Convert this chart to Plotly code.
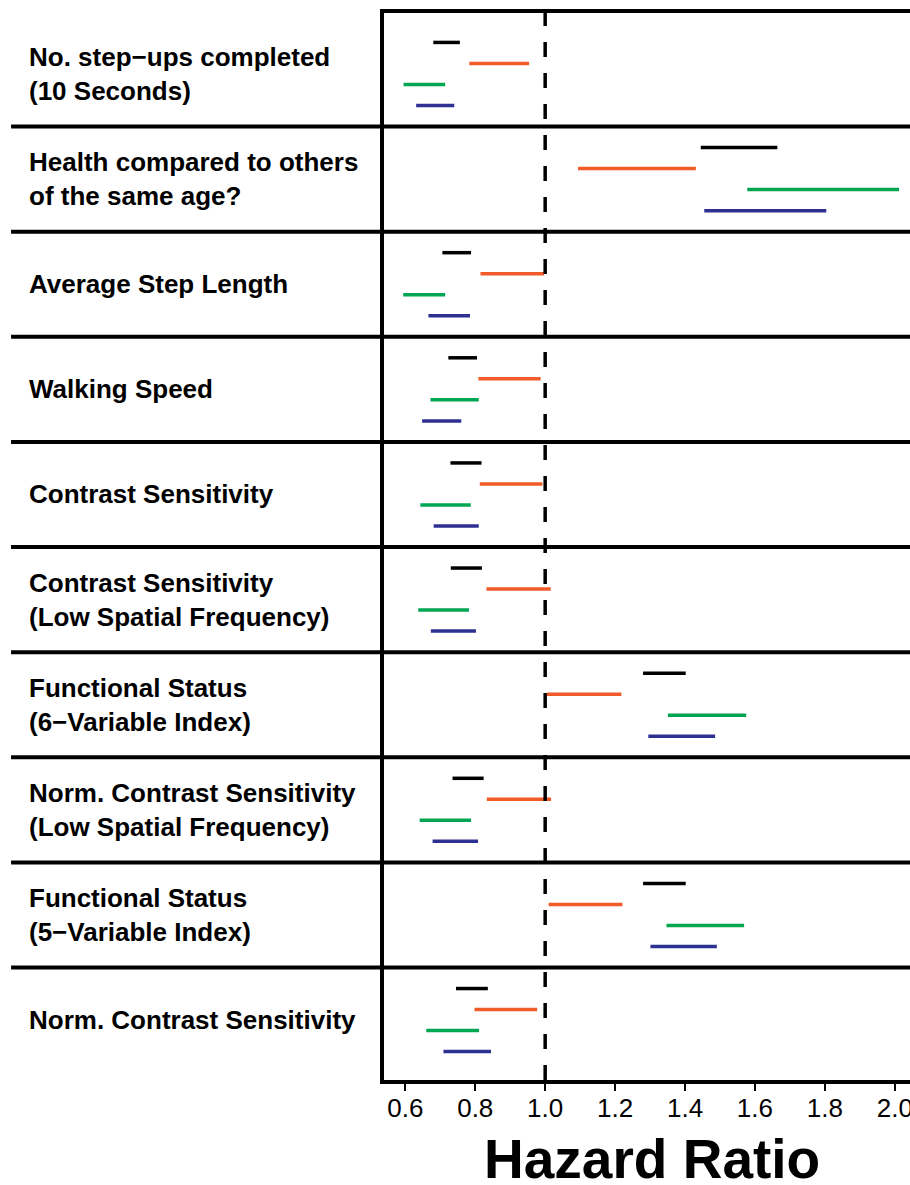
import plotly.graph_objects as go

labels = ["No. step\u2212ups completed<br>(10 Seconds)",
          "Health compared to others<br>of the same age?",
          "Average Step Length",
          "Walking Speed",
          "Contrast Sensitivity",
          "Contrast Sensitivity<br>(Low Spatial Frequency)",
          "Functional Status<br>(6\u2212Variable Index)",
          "Norm. Contrast Sensitivity<br>(Low Spatial Frequency)",
          "Functional Status<br>(5\u2212Variable Index)",
          "Norm. Contrast Sensitivity"]

black_lo = [0.68, 1.445, 0.706, 0.723, 0.729, 0.730, 1.280, 0.735, 1.280, 0.745]
black_hi = [0.756, 1.664, 0.788, 0.805, 0.818, 0.819, 1.402, 0.824, 1.402, 0.836]
orange_lo = [0.783, 1.094, 0.815, 0.809, 0.813, 0.832, 1.005, 0.833, 1.010, 0.798]
orange_hi = [0.954, 1.431, 0.997, 0.987, 0.992, 1.016, 1.218, 1.017, 1.221, 0.977]
green_lo = [0.595, 1.578, 0.594, 0.672, 0.643, 0.637, 1.351, 0.641, 1.347, 0.660]
green_hi = [0.714, 2.012, 0.714, 0.810, 0.787, 0.782, 1.575, 0.788, 1.569, 0.811]
blue_lo = [0.631, 1.455, 0.666, 0.648, 0.681, 0.673, 1.295, 0.678, 1.301, 0.709]
blue_hi = [0.740, 1.804, 0.785, 0.760, 0.810, 0.802, 1.486, 0.808, 1.491, 0.845]

x_ticks = [0.6, 0.8, 1.0, 1.2, 1.4, 1.6, 1.8, 2.0]

series = [(black_lo, black_hi, "black"),
          (orange_lo, orange_hi, "#F15A29"),
          (green_lo, green_hi, "#00A651"),
          (blue_lo, blue_hi, "#2E3192")]

fig = go.Figure()
for k, (lo, hi, col) in enumerate(series):
    xs, ys = [], []
    for i in range(len(labels)):
        yy = i + 0.2 * (k + 1)
        xs += [lo[i], hi[i], None]
        ys += [yy, yy, None]
    fig.add_trace(go.Scatter(x=xs, y=ys, mode='lines', showlegend=False,
                             line=dict(color=col, width=3.5)))

# row separators, reaching into the label area
for i in range(1, len(labels)):
    fig.add_shape(type='line', xref='paper', yref='y', x0=-0.709, x1=1, y0=i, y1=i,
                  line=dict(color='black', width=4))

fig.add_shape(type='line', xref='x', yref='paper', x0=1.0, x1=1.0, y0=0, y1=1,
              line=dict(color='black', width=3.5, dash='15px,16px'))

for i, lab in enumerate(labels):
    fig.add_annotation(text="<b>" + lab + "</b>", xref='paper', yref='y',
                       x=-0.6787, y=i + 0.5, xanchor='left', yanchor='middle',
                       align='left', showarrow=False,
                       font=dict(size=26, color='black'))

fig.add_annotation(text="<b>Hazard Ratio</b>", xref='paper', yref='paper',
                   x=0.5095, y=-0.074, xanchor='center', yanchor='middle',
                   showarrow=False, font=dict(size=55, color='black'))

fig.update_xaxes(range=[0.539, 2.0435], tickvals=x_ticks,
                 ticktext=["%.1f" % t for t in x_ticks],
                 showgrid=False, zeroline=False, showline=True, linewidth=4,
                 linecolor='black', mirror=True, ticks='outside', ticklen=7,
                 tickwidth=2, tickcolor='black', automargin=False,
                 ticklabeloverflow='allow', ticklabelstandoff=-5,
                 tickfont=dict(size=26, color='black'))
fig.update_yaxes(range=[10.07, -0.08], showgrid=False, zeroline=False,
                 showline=True, linewidth=4, linecolor='black',
                 showticklabels=False, automargin=False)

fig.update_layout(width=910, height=1185, margin=dict(l=384, r=0, t=13, b=105),
                  plot_bgcolor='white', paper_bgcolor='white',
                  font=dict(family='Liberation Sans, Arial, sans-serif'))

fig.write_html("out.html", config={'displayModeBar': False},
               post_script="document.body.style.margin='0';")
